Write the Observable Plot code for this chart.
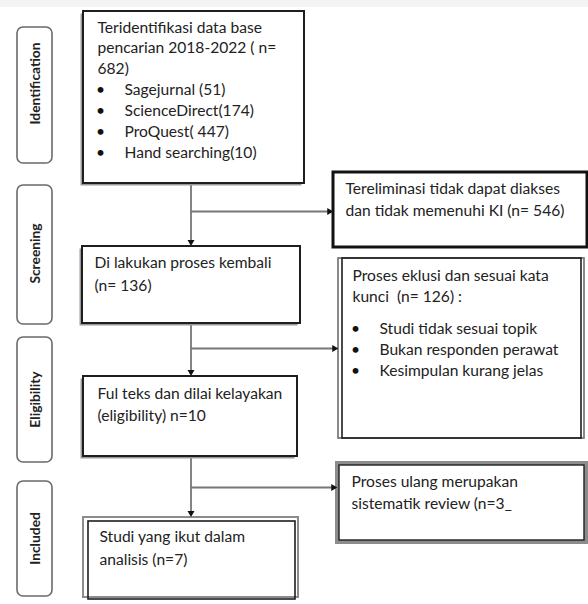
<!DOCTYPE html>
<html>
<head>
<meta charset="utf-8">
<script src="https://cdn.jsdelivr.net/npm/d3@7"></script>
<script src="https://cdn.jsdelivr.net/npm/@observablehq/plot@0.6"></script>
<style>
  html, body { margin: 0; padding: 0; background: #fff; overflow: hidden; }
  svg { display: block; }
</style>
</head>
<body>
<div id="chart"></div>
<script>
// ---------- data (content only) ----------
const stages = ["Identification", "Screening", "Eligibility", "Included"];
const identifiedLines = ["Teridentifikasi data base", "pencarian 2018-2022 ( n=", "682)"];
const sources = ["Sagejurnal (51)", "ScienceDirect(174)", "ProQuest( 447)", "Hand searching(10)"];
const screenedLines = ["Di lakukan proses kembali", "(n= 136)"];
const eliminatedLines = ["Tereliminasi tidak dapat diakses", "dan tidak memenuhi KI (n= 546)"];
const excludedLines = ["Proses eklusi dan sesuai kata", "kunci  (n= 126) :"];
const exclusionReasons = ["Studi tidak sesuai topik", "Bukan responden perawat", "Kesimpulan kurang jelas"];
const eligibleLines = ["Ful teks dan dilai kelayakan", "(eligibility) n=10"];
const reviewLines = ["Proses ulang merupakan", "sistematik review (n=3_"];
const includedLines = ["Studi yang ikut dalam", "analisis (n=7)"];

// ---------- layout (pixel frame) ----------
const W = 588, H = 604;
const FONT = "Lato, 'Open Sans', sans-serif";
const FS = 15.6;
const stageLayout = [
  {y1: 27, y2: 163, ty: 83},
  {y1: 185, y2: 324, ty: 253},
  {y1: 337, y2: 462, ty: 399},
  {y1: 481, y2: 596, ty: 538}
];
const stageX = [17, 52];

const mainX = 190.5;
const boxes = {
  identified: {x1: 83, x2: 304, y1: 11, y2: 183, style: "shadow"},
  screened:   {x1: 82, x2: 300, y1: 246, y2: 323, style: "shadow"},
  eligible:   {x1: 83, x2: 297, y1: 376, y2: 456, style: "shadow"},
  included:   {x1: 83, x2: 298, y1: 517, y2: 597, style: "double"},
  eliminated: {x1: 333, x2: 587, y1: 172, y2: 247, style: "thick"},
  excluded:   {x1: 338, x2: 584, y1: 258, y2: 438, style: "sides"},
  review:     {x1: 337, x2: 586, y1: 463, y2: 542, style: "grayframe"}
};

// text blocks: lines, x, first line y, line gap
const textBlocks = [
  {lines: identifiedLines, x: 97, y0: 27, gap: 20.8},
  {lines: screenedLines, x: 94, y0: 262, gap: 23},
  {lines: eliminatedLines, x: 345, y0: 188, gap: 22},
  {lines: excludedLines, x: 352, y0: 275, gap: 21},
  {lines: eligibleLines, x: 97, y0: 393, gap: 22},
  {lines: reviewLines, x: 351, y0: 481, gap: 22},
  {lines: includedLines, x: 99, y0: 536, gap: 23}
];
const bulletBlocks = [
  {items: sources, bx: 100, x: 124, y0: 89.5, gap: 21.1},
  {items: exclusionReasons, bx: 355, x: 379, y0: 328.5, gap: 20.8}
];

const connectors = [
  {from: "identified", to: "screened", side: "eliminated", by: 211},
  {from: "screened", to: "eligible", side: "excluded", by: 348},
  {from: "eligible", to: "included", side: "review", by: 487}
];

// ---------- build rows ----------
const textRows = textBlocks.flatMap(b => b.lines.map((t, i) => ({t, x: b.x, y: b.y0 + i * b.gap})));
const bulletRows = bulletBlocks.flatMap(b => b.items.map((t, i) => ({t, x: b.x, bx: b.bx, y: b.y0 + i * b.gap})));
const stageRows = stages.map((s, i) => ({s, ...stageLayout[i], x1: stageX[0], x2: stageX[1]}));

const linkRows = [];
const arrowDown = [];
const arrowRight = [];
for (const c of connectors) {
  const a = boxes[c.from], b = boxes[c.to], s = boxes[c.side];
  linkRows.push({x1: mainX, y1: a.y2 + 1, x2: mainX, y2: b.y1 - 3});
  linkRows.push({x1: mainX, y1: c.by, x2: s.x1 - 3, y2: c.by});
  arrowDown.push({x: mainX, y: b.y1 - 4.5});
  arrowRight.push({x: s.x1 - 4.2, y: c.by});
}

function rectOf(b, dx1 = 0, dy1 = 0, dx2 = 0, dy2 = 0) {
  return {x1: b.x1 + dx1, y1: b.y1 + dy1, x2: b.x2 + dx2, y2: b.y2 + dy2};
}
const boxMarks = [];
for (const key in boxes) {
  const b = boxes[key];
  const R = (data, o) => boxMarks.push(Plot.rect(data, {x1: "x1", x2: "x2", y1: "y1", y2: "y2", ...o}));
  if (b.style === "shadow") {
    R([rectOf(b, -2.5, 2.5, -2.5, 2.5)], {fill: "#9a9a9a"});
    R([rectOf(b)], {fill: "white", stroke: "#1e1e1e", strokeWidth: 2});
  } else if (b.style === "double") {
    R([rectOf(b)], {fill: "white", stroke: "#8c8c8c", strokeWidth: 2});
    R([rectOf(b, 5, 4, -3, 2)], {fill: "none", stroke: "#1e1e1e", strokeWidth: 1.6});
  } else if (b.style === "thick") {
    R([rectOf(b)], {fill: "white", stroke: "#111", strokeWidth: 3});
  } else if (b.style === "sides") {
    R([rectOf(b)], {fill: "white", stroke: "#6d6d6d", strokeWidth: 1.6});
    R([rectOf(b, 4, 0, -3, 0)], {fill: "none", stroke: "#1e1e1e", strokeWidth: 1.6});
  } else if (b.style === "grayframe") {
    R([rectOf(b)], {fill: "white", stroke: "#8c8c8c", strokeWidth: 4});
    R([rectOf(b, 2, 2, -2, -2)], {fill: "none", stroke: "#1e1e1e", strokeWidth: 1.4});
  }
}

const chart = Plot.plot({
  width: W, height: H,
  margin: 0,
  x: {domain: [0, W], range: [0, W], axis: null},
  y: {domain: [0, H], range: [0, H], axis: null},
  style: {background: "white"},
  marks: [
    // faint band at the very top
    Plot.rect([{x1: 0, x2: W, y1: 0, y2: 7}], {x1: "x1", x2: "x2", y1: "y1", y2: "y2", fill: "#f3f3f3"}),
    // stage labels
    Plot.rect(stageRows, {x1: "x1", x2: "x2", y1: "y1", y2: "y2", rx: 6, fill: "white", stroke: "#6a6a6a", strokeWidth: 1.6}),
    Plot.text(stageRows, {x: d => (d.x1 + d.x2) / 2 + 1, y: "ty", text: "s", rotate: -90, fontSize: 13.8, fontWeight: "bold", fontFamily: FONT, fill: "#222"}),
    // connectors
    Plot.link(linkRows, {x1: "x1", y1: "y1", x2: "x2", y2: "y2", stroke: "#777", strokeWidth: 1.8}),
    ...boxMarks,
    Plot.dot(arrowDown, {x: "x", y: "y", symbol: "triangle", r: 2.6, rotate: 180, fill: "#111", stroke: "none"}),
    Plot.dot(arrowRight, {x: "x", y: "y", symbol: "triangle", r: 2.6, rotate: 90, fill: "#111", stroke: "none"}),
    // texts
    Plot.text(textRows, {x: "x", y: "y", text: "t", textAnchor: "start", fontSize: FS, fontFamily: FONT, fill: "#222"}),
    Plot.text(bulletRows, {x: "bx", y: "y", text: () => "•", textAnchor: "middle", fontSize: FS, fontFamily: FONT, fill: "#111"}),
    Plot.text(bulletRows, {x: "x", y: "y", text: "t", textAnchor: "start", fontSize: FS, fontFamily: FONT, fill: "#222"})
  ]
});
document.getElementById("chart").appendChild(chart);
</script>
</body>
</html>
